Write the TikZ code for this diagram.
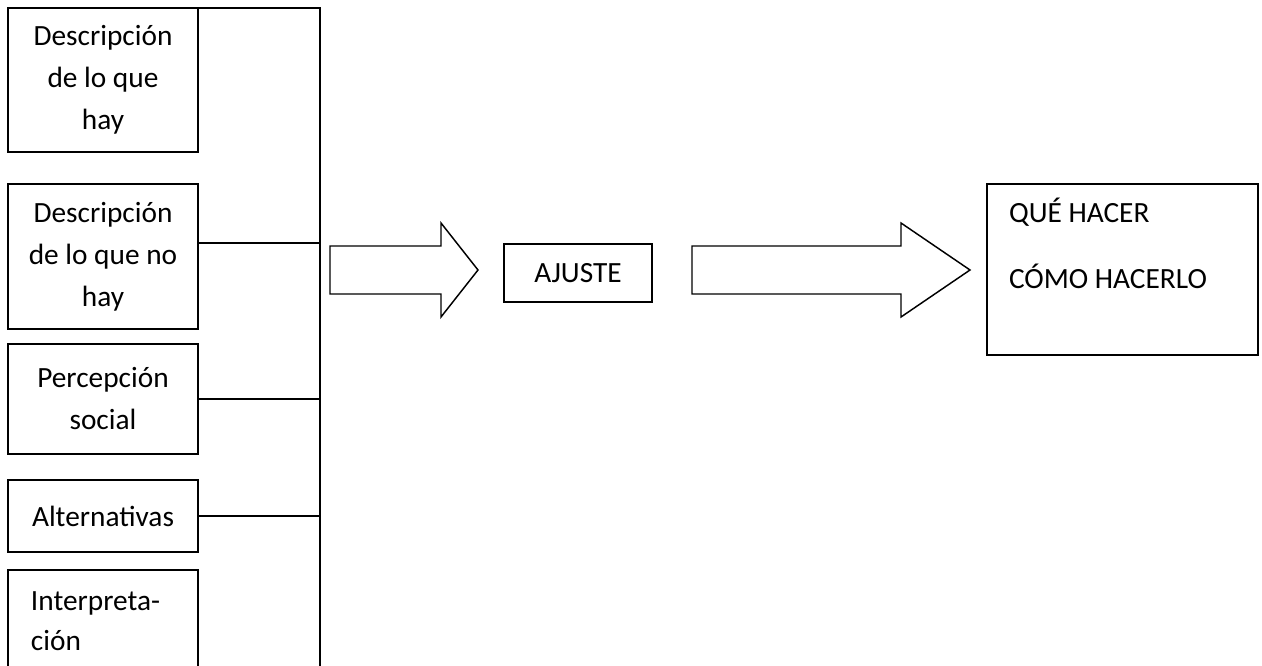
\documentclass[tikz,border=0pt]{standalone}
\usepackage{fontspec}
\setmainfont{Carlito}
\begin{document}
\begin{tikzpicture}[x=0.75pt, y=-0.75pt, line width=1.5pt, line join=miter,
  txt/.style={font=\fontsize{22}{31.5}\selectfont, inner sep=0pt},
  box/.style={draw, rectangle, inner sep=0pt, outer sep=0pt, align=center, txt},
  blockarrow/.style={draw, line width=1.1pt, line join=miter, fill=white}]
  \fill[white] (0,0) rectangle (1262,666);
  \useasboundingbox (0,0) rectangle (1262,666);
  \clip (0,0) rectangle (1262,666);

  % left column of boxes
  \node[box, minimum width=142.5pt, minimum height=108pt]   (b1) at (103,80)    {Descripción\\de lo que\\hay};
  \node[box, minimum width=142.5pt, minimum height=108.75pt] (b2) at (103,256.5) {Descripción\\de lo que no\\hay};
  \node[box, minimum width=142.5pt, minimum height=82.5pt]  (b3) at (103,399)   {Percepción\\social};
  \node[box, minimum width=142.5pt, minimum height=54pt]    (b4) at (103,516)   {Alternativas};
  \node[box, minimum width=142.5pt, minimum height=112.5pt] (b5) at (103,645)   {};
  \node[txt, anchor=base west] (b5a) at (30,610) {Interpreta-};
  \node[txt, anchor=base west] (b5b) at (30,650) {ción};

  % collecting bus
  \coordinate (bustop) at (320,8);
  \coordinate (busbot) at (320,700);
  \draw (b1.north east) -- (bustop) -- (busbot);
  \draw ([yshift=10.125pt]b2.east) coordinate (c2) -- (c2 -| bustop);
  \draw (b3.east) -- (b3.east -| bustop);
  \draw (b4.east) -- (b4.east -| bustop);

  % middle box
  \node[box, minimum width=111pt, minimum height=43.5pt] (aj) at (578,273) {AJUSTE};

  % block arrows
  \draw[blockarrow] (330,246) -- (441,246) -- (441,223) -- (478,270)
        -- (441,317) -- (441,294) -- (330,294) -- cycle;
  \draw[blockarrow] (692,246) -- (901,246) -- (901,223) -- (970,270)
        -- (901,317) -- (901,294) -- (692,294) -- cycle;

  % result box
  \node[box, minimum width=203.25pt, minimum height=128.25pt] (res) at (1122.5,269.5) {};
  \node[txt, anchor=base west] (r1) at (1008,223) {QUÉ HACER};
  \node[txt, anchor=base west] (r2) at (1008,289) {CÓMO HACERLO};
\end{tikzpicture}
\end{document}
